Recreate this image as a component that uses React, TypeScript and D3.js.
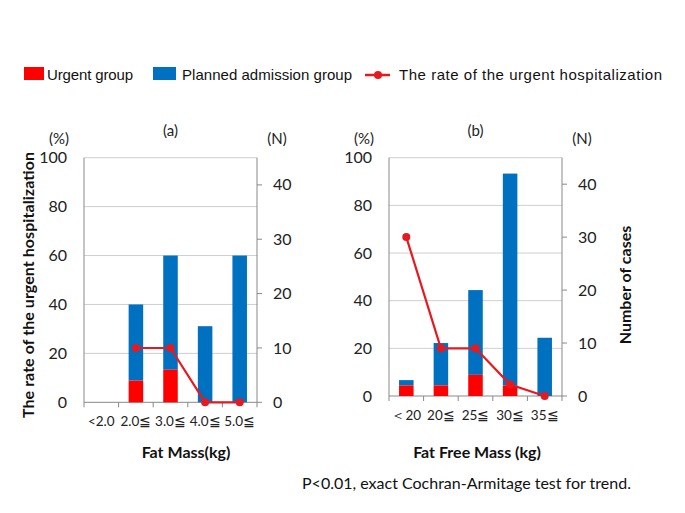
import React from "react";
import * as d3 from "d3";

const catsA = ["<2.0", "2.0≦", "3.0≦", "4.0≦", "5.0≦"];
const urgentA = [0, 4, 6, 0, 0];
const plannedA = [0, 14, 21, 14, 27];
const rateA: (number | null)[] = [null, 22.2, 22.2, 0, 0];

const catsB = ["＜20", "20≦", "25≦", "30≦", "35≦"];
const urgentB = [2, 2, 4, 2, 0];
const plannedB = [1, 8, 16, 40, 11];
const rateB: (number | null)[] = [66.7, 20, 20, 4.8, 0];

const pctTicks = [0, 20, 40, 60, 80, 100];
const nTicks = [0, 10, 20, 30, 40];

const RED = "#ff0000";
const BLUE = "#0070c0";
const LINE = "#e8191e";
const GRID = "#cfcfcf";
const AXIS = "#898989";
const FONT = "Lato, 'Liberation Sans', sans-serif";

type PanelProps = {
  cats: string[];
  urgent: number[];
  planned: number[];
  rate: (number | null)[];
  x0: number;
  x1: number;
  y0: number;
  y1: number;
  title: string;
  xTitle: string;
  xTitleX: number;
};

function Panel(p: PanelProps) {
  const x = d3.scaleBand<string>().domain(p.cats).range([p.x0, p.x1]).paddingInner(0.58).paddingOuter(0.29);
  const yP = d3.scaleLinear().domain([0, 100]).range([p.y1, p.y0]);
  const yN = d3.scaleLinear().domain([0, 45]).range([p.y1, p.y0]);
  const step = x.step();
  const pts = p.cats
    .map((c, i) => ({ c, v: p.rate[i] }))
    .filter((d) => d.v !== null) as { c: string; v: number }[];
  const line = d3
    .line<{ c: string; v: number }>()
    .x((d) => (x(d.c) as number) + x.bandwidth() / 2)
    .y((d) => yP(d.v));
  return (
    <g>
      {pctTicks.slice(1).map((t) => (
        <line key={t} x1={p.x0} x2={p.x1} y1={yP(t)} y2={yP(t)} stroke={GRID} strokeWidth={1} />
      ))}
      <line x1={p.x0} x2={p.x0} y1={p.y0} y2={p.y1} stroke={AXIS} />
      <line x1={p.x1} x2={p.x1} y1={p.y0} y2={p.y1} stroke={AXIS} />
      <line x1={p.x0} x2={p.x1} y1={p.y1} y2={p.y1} stroke={AXIS} />
      {p.cats.map((c, i) => (
        <line key={"bt" + i} x1={p.x0 + step * i} x2={p.x0 + step * i} y1={p.y1} y2={p.y1 + 5} stroke={AXIS} />
      ))}
      <line x1={p.x1} x2={p.x1} y1={p.y1} y2={p.y1 + 5} stroke={AXIS} />
      {nTicks.map((t) => (
        <line key={"rt" + t} x1={p.x1} x2={p.x1 + 5} y1={yN(t)} y2={yN(t)} stroke={AXIS} />
      ))}
      {p.cats.map((c, i) => (
        <g key={"b" + i}>
          <rect x={x(c)} width={x.bandwidth()} y={yN(p.urgent[i] + p.planned[i])} height={yN(p.urgent[i]) - yN(p.urgent[i] + p.planned[i])} fill={BLUE} />
          <rect x={x(c)} width={x.bandwidth()} y={yN(p.urgent[i])} height={yN(0) - yN(p.urgent[i])} fill={RED} />
        </g>
      ))}
      <path d={line(pts) || ""} fill="none" stroke={LINE} strokeWidth={2.2} />
      {pts.map((d, i) => (
        <circle key={"m" + i} cx={(x(d.c) as number) + x.bandwidth() / 2} cy={yP(d.v)} r={4} fill={LINE} />
      ))}
      {pctTicks.map((t) => (
        <text key={"lp" + t} x={p.x0 - 17} y={yP(t)} dy="0.35em" textAnchor="end" fontSize={16} fill="#222">
          {t}
        </text>
      ))}
      {nTicks.map((t) => (
        <text key={"ln" + t} x={p.x1 + 16} y={yN(t)} dy="0.35em" textAnchor="start" fontSize={16} fill="#222">
          {t}
        </text>
      ))}
      {p.cats.map((c) => (
        <text key={"c" + c} x={(x(c) as number) + x.bandwidth() / 2} y={p.y1 + 19} dy="0.35em" textAnchor="middle" fontSize={13.5} fill="#222">
          {c}
        </text>
      ))}
      <text x={(p.x0 + p.x1) / 2} y={131} dy="0.35em" textAnchor="middle" fontSize={15} fill="#222">
        {p.title}
      </text>
      <text x={p.x0 - 25} y={139} dy="0.35em" textAnchor="middle" fontSize={15} fill="#222">
        (%)
      </text>
      <text x={p.x1 + 20} y={139} dy="0.35em" textAnchor="middle" fontSize={15} fill="#222">
        (N)
      </text>
      <text x={p.xTitleX} y={452} dy="0.35em" textAnchor="middle" fontSize={16} fontWeight="bold" fill="#111">
        {p.xTitle}
      </text>
    </g>
  );
}

export default function App() {
  return (
    <svg
      width={685}
      height={513}
      style={{ position: "absolute", left: 0, top: 0, background: "#fff", fontFamily: FONT }}
    >
      <rect width={685} height={513} fill="#fff" />
      <g fontFamily="'Liberation Sans', Arial, sans-serif" fontSize={15} fill="#111">
        <rect x={24} y={67} width={20} height={13} fill={RED} />
        <text x={47} y={80} textLength={86} lengthAdjust="spacing">Urgent  group</text>
        <rect x={153} y={67} width={23} height={13} fill={BLUE} />
        <text x={182} y={80} textLength={170} lengthAdjust="spacing">Planned  admission  group</text>
        <line x1={365} x2={390} y1={75} y2={75} stroke={LINE} strokeWidth={2.5} />
        <circle cx={378} cy={75} r={4} fill={LINE} />
        <text x={399} y={80} textLength={263} lengthAdjust="spacing">The rate of the  urgent hospitalization</text>
      </g>
      <Panel cats={catsA} urgent={urgentA} planned={plannedA} rate={rateA} x0={84} x1={257} y0={157.7} y1={402.3} title="(a)" xTitle="Fat Mass(kg)" xTitleX={186} />
      <Panel cats={catsB} urgent={urgentB} planned={plannedB} rate={rateB} x0={389} x1={562} y0={157.7} y1={396} title="(b)" xTitle="Fat Free Mass (kg)" xTitleX={477} />
      <text transform="translate(28,285) rotate(-90)" dy="0.35em" textAnchor="middle" fontSize={16} fontWeight="bold" fill="#111" textLength={266} lengthAdjust="spacing">
        The rate  of the urgent hospitalization
      </text>
      <text transform="translate(625,285) rotate(-90)" dy="0.35em" textAnchor="middle" fontSize={16} fontWeight="bold" fill="#111">
        Number of cases
      </text>
      <text x={302} y={483} dy="0.35em" fontSize={16} fill="#111">
        P&lt;0.01, exact Cochran-Armitage test for trend.
      </text>
    </svg>
  );
}
